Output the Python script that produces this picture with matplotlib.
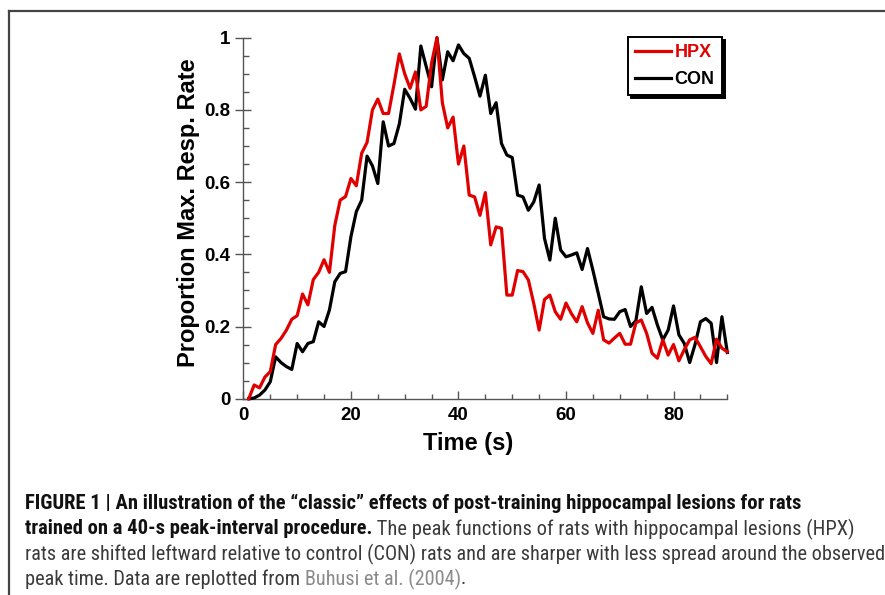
import matplotlib
matplotlib.use("Agg")
import matplotlib.pyplot as plt
from matplotlib import font_manager
from matplotlib.lines import Line2D

# ---------------- data ----------------
time_s = list(range(1, 91))
hpx = [0.00, 0.038, 0.03, 0.06, 0.075, 0.15, 0.167, 0.19, 0.22, 0.23,
       0.29, 0.26, 0.33, 0.35, 0.385, 0.35, 0.48, 0.55, 0.56, 0.61,
       0.59, 0.68, 0.71, 0.80, 0.83, 0.79, 0.79, 0.87, 0.955, 0.90,
       0.86, 0.905, 0.80, 0.81, 0.93, 1.00, 0.82, 0.75, 0.78, 0.65,
       0.70, 0.564, 0.559, 0.508, 0.571, 0.426, 0.476, 0.472, 0.287, 0.287,
       0.355, 0.352, 0.329, 0.264, 0.19, 0.275, 0.287, 0.241, 0.22, 0.265,
       0.236, 0.213, 0.255, 0.21, 0.181, 0.245, 0.163, 0.154, 0.168, 0.181,
       0.151, 0.151, 0.21, 0.218, 0.181, 0.126, 0.112, 0.163, 0.121, 0.15,
       0.105, 0.136, 0.163, 0.17, 0.144, 0.117, 0.097, 0.165, 0.14, 0.13]
con = [0.0, 0.002, 0.01, 0.024, 0.047, 0.116, 0.10, 0.089, 0.081, 0.153,
       0.13, 0.153, 0.158, 0.213, 0.20, 0.246, 0.324, 0.347, 0.352, 0.449,
       0.518, 0.55, 0.672, 0.645, 0.596, 0.767, 0.70, 0.707, 0.761, 0.857,
       0.832, 0.802, 0.977, 0.92, 0.864, 1.0, 0.883, 0.961, 0.936, 0.98,
       0.956, 0.943, 0.892, 0.838, 0.896, 0.79, 0.82, 0.707, 0.675, 0.668,
       0.564, 0.559, 0.522, 0.545, 0.592, 0.444, 0.384, 0.50, 0.412, 0.393,
       0.398, 0.404, 0.358, 0.416, 0.356, 0.292, 0.227, 0.221, 0.22, 0.241,
       0.247, 0.20, 0.216, 0.31, 0.236, 0.253, 0.204, 0.163, 0.19, 0.257,
       0.177, 0.153, 0.10, 0.15, 0.213, 0.222, 0.209, 0.10, 0.227, 0.128]
x_ticks = [0, 20, 40, 60, 80]
y_ticks = [0, 0.2, 0.4, 0.6, 0.8, 1]
y_tick_labels = ["0", "0.2", "0.4", "0.6", "0.8", "1"]
series_names = ["HPX", "CON"]
series_colors = ["#e00000", "#000000"]

caption_lines = [
    [("FIGURE 1 | An illustration of the \u201cclassic\u201d effects of post-training hippocampal lesions for rats", "bold", "#111111")],
    [("trained on a 40-s peak-interval procedure.", "bold", "#111111"),
     (" The peak functions of rats with hippocampal lesions (HPX)", "normal", "#3a3a3a")],
    [("rats are shifted leftward relative to control (CON) rats and are sharper with less spread around the observed", "normal", "#3a3a3a")],
    [("peak time. Data are replotted from ", "normal", "#3a3a3a"),
     ("Buhusi et al. (2004)", "normal", "#8a8a8a"),
     (".", "normal", "#3a3a3a")],
]

# ---------------- figure ----------------
W, H = 885, 595
fig = plt.figure(figsize=(W / 100, H / 100), dpi=100)
plt.rcParams['font.family'] = ['Liberation Sans', 'DejaVu Sans']

names = {f.name for f in font_manager.fontManager.ttflist}
cap_font = 'Liberation Sans'
for cand in ['Liberation Sans Narrow', 'Roboto Condensed', 'Open Sans Condensed', 'Roboto']:
    if cand in names:
        cap_font = cand
        break

def fx(px):
    return px / W

def fy(py):
    return 1 - py / H

ax_l, ax_r, ax_t, ax_b = 243.4, 727.3, 37.7, 398.7
ax = fig.add_axes([fx(ax_l), fy(ax_b), fx(ax_r) - fx(ax_l), fy(ax_t) - fy(ax_b)])
ax.plot(time_s, con, color=series_colors[1], lw=2.3, clip_on=False, zorder=3)
ax.plot(time_s, hpx, color=series_colors[0], lw=2.3, clip_on=False, zorder=4)
ax.set_xlim(0, 90)
ax.set_ylim(0, 1)
for s in ['top', 'right']:
    ax.spines[s].set_visible(False)
for s in ['left', 'bottom']:
    ax.spines[s].set_color('#555555')
    ax.spines[s].set_linewidth(1.0)
ax.set_xticks(x_ticks)
ax.set_xticks([5 * i for i in range(19)], minor=True)
ax.set_yticks(y_ticks)
ax.set_yticklabels(y_tick_labels)
ax.set_yticks([0.05 * i for i in range(21)], minor=True)
ax.tick_params(axis='y', which='major', direction='inout', length=11, width=1, color='#555555',
               labelsize=13.5, pad=4)
ax.tick_params(axis='y', which='minor', direction='in', length=4, width=1, color='#555555')
ax.tick_params(axis='x', which='major', direction='in', length=6, width=1, color='#555555',
               labelsize=13.5, pad=6)
ax.tick_params(axis='x', which='minor', direction='in', length=3.5, width=1, color='#555555')
for lab in ax.get_xticklabels() + ax.get_yticklabels():
    lab.set_fontweight('bold')
ax.set_xlabel("Time (s)", fontsize=17, fontweight='bold')
ax.set_ylabel("Proportion Max. Resp. Rate", fontsize=17, fontweight='bold')
axw, axh = ax_r - ax_l, ax_b - ax_t
ax.xaxis.set_label_coords((468 - ax_l) / axw, (ax_b - 432) / axh)
ax.yaxis.set_label_coords((200 - ax_l) / axw, (ax_b - 212.5) / axh)

handles = [Line2D([], [], color=series_colors[0], lw=2.3),
           Line2D([], [], color=series_colors[1], lw=2.3)]
leg = fig.legend(handles, series_names, loc='upper left',
                 bbox_to_anchor=(fx(628), fy(37)), bbox_transform=fig.transFigure,
                 frameon=True, fancybox=False, shadow={'color': 'black', 'alpha': 1.0},
                 edgecolor='black', borderaxespad=0, handlelength=2.0, handletextpad=0.18,
                 borderpad=0.4, labelspacing=0.55,
                 prop={'weight': 'bold', 'size': 13}, labelcolor='linecolor')
leg.get_frame().set_linewidth(1.4)

# border of the figure panel
fig.add_artist(Line2D([fx(9), fx(9)], [fy(11), 0], transform=fig.transFigure, color='#444444', lw=1.6))
fig.add_artist(Line2D([fx(9), 1], [fy(11), fy(11)], transform=fig.transFigure, color='#444444', lw=1.6))

# caption
fig.canvas.draw()
renderer = fig.canvas.get_renderer()
line_y = [503, 529, 554, 579]
line_end = [803, 853, 880, None]
base = 12.0

def line_width(segs, size):
    total = 0
    for txt, wt, col in segs:
        t = fig.text(0, 0, txt, fontsize=size, fontweight=wt, family=cap_font)
        total += t.get_window_extent(renderer).width
        t.remove()
    return total

sizes = []
for segs, end in zip(caption_lines, line_end):
    if end is None:
        sizes.append(sizes[2])
    else:
        w = line_width(segs, base)
        sizes.append(base * (end - 25) / w)

for segs, yy, size in zip(caption_lines, line_y, sizes):
    xpix = 25
    for txt, wt, col in segs:
        t = fig.text(fx(xpix), fy(yy), txt, fontsize=size, fontweight=wt, color=col,
                     family=cap_font, va='center', ha='left')
        xpix += t.get_window_extent(renderer).width

fig.savefig("out.png", dpi=100)
